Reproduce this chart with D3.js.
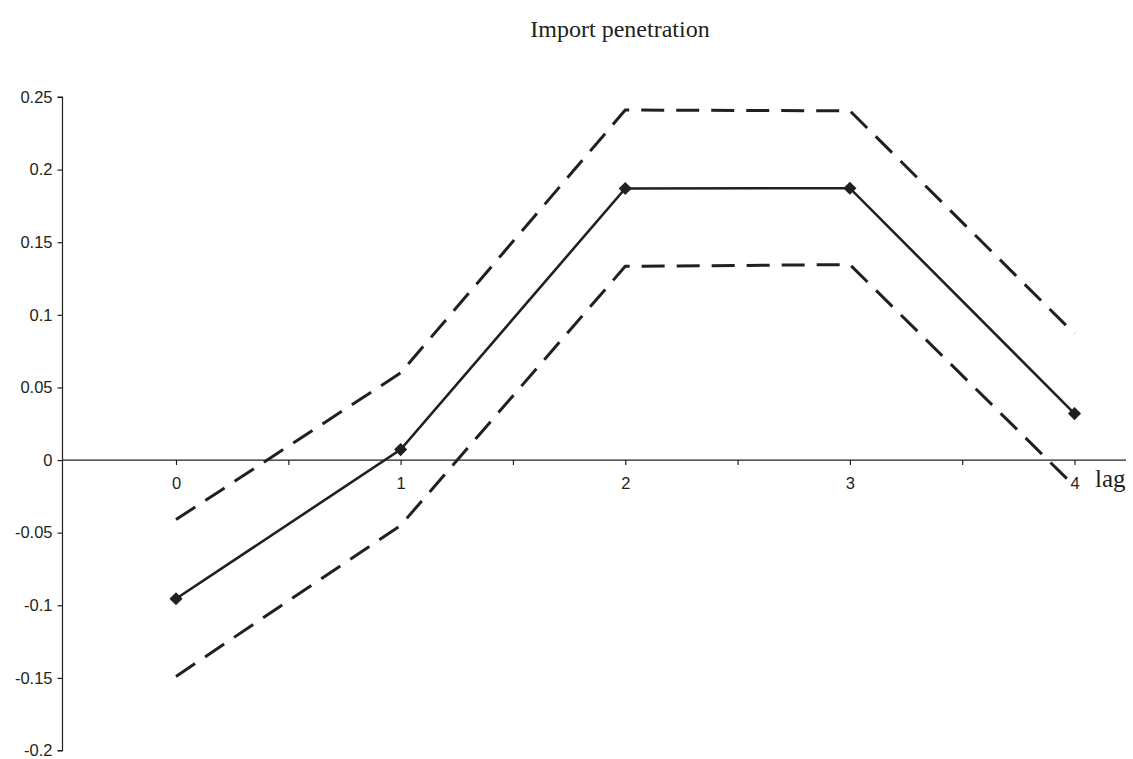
<!DOCTYPE html>
<html>
<head>
<meta charset="utf-8">
<script src="https://cdn.jsdelivr.net/npm/d3@7"></script>
<style>
  html, body { margin: 0; padding: 0; background: #fff; }
  svg { display: block; }
</style>
</head>
<body>
<svg id="chart" width="1133" height="759"></svg>
<script>
// Lags and estimated response with its confidence band
const lags = [0, 1, 2, 3, 4];
const estimate = [-0.0955, 0.0072, 0.187, 0.1872, 0.032];
const upperBand = [-0.041, 0.060, 0.241, 0.2405, 0.087];
const lowerBand = [-0.149, -0.045, 0.1334, 0.1346, -0.018];
const yTickValues = [0.25, 0.2, 0.15, 0.1, 0.05, 0, -0.05, -0.1, -0.15, -0.2];
const xTickValues = [0, 0.5, 1, 1.5, 2, 2.5, 3, 3.5, 4];
const title = "Import penetration";
const xTitle = "lag";

const svg = d3.select("#chart");
const ink = "#231f20";

const x = d3.scaleLinear().domain([0, 4]).range([176, 1074.5]);
const y = d3.scaleLinear().domain([-0.2, 0.25]).range([750.5, 97]);

const axisX0 = 62.5;

// Title
svg.append("text")
  .attr("x", 620).attr("y", 37)
  .attr("text-anchor", "middle")
  .style("font-family", "'Liberation Serif', 'Times New Roman', serif")
  .style("font-size", "24px")
  .attr("fill", ink)
  .text(title);

// Y axis (plain hyphen for negatives)
const yAxis = d3.axisLeft(y)
  .tickValues(yTickValues)
  .tickSize(5)
  .tickPadding(5)
  .tickFormat(d => String(+d.toFixed(2)));
const gy = svg.append("g")
  .attr("transform", `translate(${axisX0},0)`)
  .call(yAxis);
gy.select(".domain").attr("d", `M-5,${y(0.25)}H0V${y(-0.2)}H-5`);
gy.selectAll("path, line").attr("stroke", ink).attr("stroke-width", 1.2);
gy.selectAll("text")
  .attr("fill", ink)
  .style("font-family", "'Liberation Sans', Arial, sans-serif")
  .style("font-size", "16.5px");

// X axis along zero
const xAxis = d3.axisBottom(x)
  .tickValues(xTickValues)
  .tickSize(5)
  .tickPadding(12)
  .tickFormat(d => Number.isInteger(d) ? String(d) : "");
const gx = svg.append("g")
  .attr("transform", `translate(0,${y(0)})`)
  .call(xAxis);
gx.select(".domain").attr("d", `M${axisX0},0H1126`);
gx.selectAll("path, line").attr("stroke", ink).attr("stroke-width", 1.2);
gx.selectAll("text")
  .attr("fill", ink)
  .style("font-family", "'Liberation Sans', Arial, sans-serif")
  .style("font-size", "16.5px");

// Axis title
svg.append("text")
  .attr("x", 1095).attr("y", 487)
  .style("font-family", "'Liberation Serif', 'Times New Roman', serif")
  .style("font-size", "25px")
  .attr("fill", ink)
  .text(xTitle);

const line = d3.line().x((d, i) => x(lags[i])).y(d => y(d));

// Confidence band (dashed)
[upperBand, lowerBand].forEach(band => {
  svg.append("path")
    .datum(band)
    .attr("d", line)
    .attr("fill", "none")
    .attr("stroke", ink)
    .attr("stroke-width", 3)
    .attr("stroke-dasharray", "23,12");
});

// Point estimate
svg.append("path")
  .datum(estimate)
  .attr("d", line)
  .attr("fill", "none")
  .attr("stroke", ink)
  .attr("stroke-width", 2.6);

svg.selectAll(".marker")
  .data(estimate)
  .join("path")
  .attr("class", "marker")
  .attr("transform", (d, i) => `translate(${x(lags[i])},${y(d)})`)
  .attr("d", d3.symbol().type(d3.symbolDiamond2).size(110))
  .attr("fill", ink);
</script>
</body>
</html>
